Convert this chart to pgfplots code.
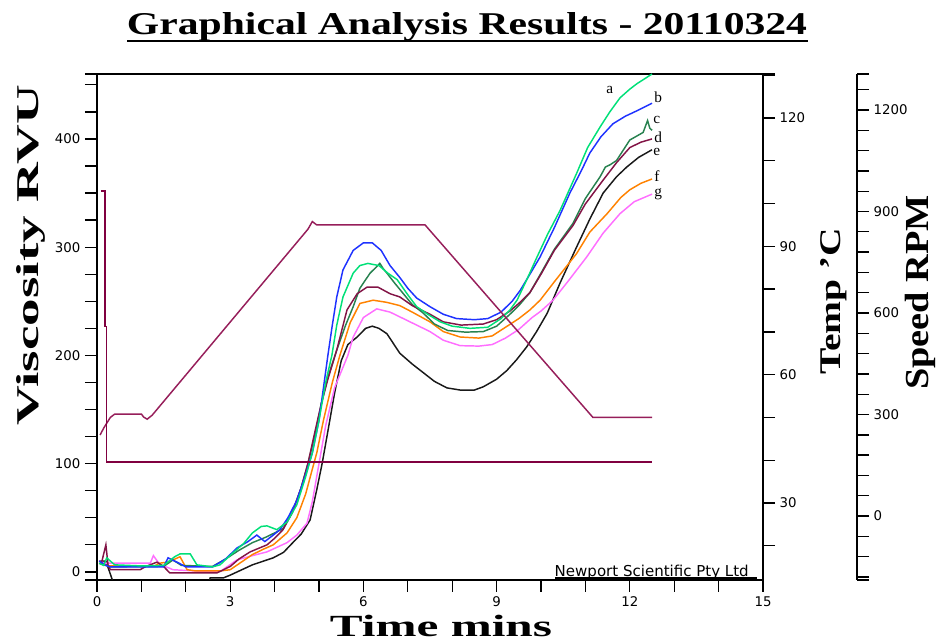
\documentclass[border=0pt]{standalone}
\usepackage{fontspec}
\setmainfont{Liberation Serif}
\newfontfamily\tickfont{DejaVu Sans}
\usepackage{graphicx}
\usepackage{pgfplots}
\pgfplotsset{compat=1.18}
\definecolor{ca}{RGB}{0,224,120}
\definecolor{cb}{RGB}{30,50,255}
\definecolor{cc}{RGB}{40,130,80}
\definecolor{cd}{RGB}{130,20,70}
\definecolor{ce}{RGB}{25,25,25}
\definecolor{cf}{RGB}{255,130,0}
\definecolor{cg}{RGB}{255,110,255}
\definecolor{ctemp}{RGB}{150,30,90}
\definecolor{cspeed}{RGB}{128,0,64}
\pgfplotsset{
  base/.style={at={(0pt,0pt)}, anchor=south west, scale only axis,
    width=499.5pt, height=379.5pt, xmin=0, xmax=15,
    axis line style={line width=1.8pt},
    tick align=outside, major tick length=9pt, minor tick length=9pt,
    every tick/.style={line width=1pt, black},
    ticklabel style={font=\tickfont\fontsize{10}{12}\selectfont},
    /pgf/number format/assume math mode=true,
    /pgf/number format/1000 sep={}},
  curve/.style={line width=1.1pt}
}
\tikzset{lab/.style={font=\fontsize{11.5}{12}\selectfont, inner sep=0pt}}
\begin{document}
\begin{tikzpicture}
\path[use as bounding box] (-72.75pt,-45.75pt) rectangle (630pt,435pt);
% viscosity axis
\begin{axis}[base, ymin=-7.5, ymax=460,
  xtick={0,3,...,15}, minor xtick={1,2,4,5,7,8,10,11,13,14},
  ytick={0,100,...,400}, minor ytick={25,50,75,125,150,175,225,250,275,325,350,375,425,450},
  extra y ticks={460,-7.5}, extra y tick labels={},
  xtick pos=bottom, ytick pos=left]
\addplot[curve, ce] coordinates {(0.05,10) (0.2,10) (0.35,-8) (0.5,-30) (2.4,-30) (2.55,-5.5) (2.85,-5.5) (3.0,-3) (3.5,6.5) (3.97,13) (4.2,18) (4.41,27) (4.6,35) (4.8,48) (4.95,76) (5.07,100) (5.2,130) (5.35,165) (5.5,195) (5.65,210) (5.86,217) (6.05,225) (6.2,227) (6.35,225) (6.53,220) (6.82,202) (7.1,192) (7.35,184) (7.6,176) (7.88,170) (8.18,168) (8.5,168) (8.7,171) (9.0,178) (9.23,186) (9.45,196) (9.68,208) (9.9,222) (10.14,239) (10.43,267) (10.8,300) (11.1,326) (11.4,350) (11.7,365) (11.93,374) (12.2,383) (12.5,390)};
\addplot[curve, cg] coordinates {(0.05,10) (0.2,8) (0.3,8) (1.2,8) (1.27,15) (1.42,6.5) (1.6,4) (1.71,2) (2.6,0) (2.8,1) (3.15,11) (3.5,15) (3.83,18.5) (4.28,27) (4.5,34) (4.73,45) (4.85,65) (5.0,100) (5.15,135) (5.35,170) (5.65,200) (5.77,217) (6.0,235) (6.3,243) (6.6,240) (6.9,234) (7.2,228) (7.5,222) (7.8,214) (8.18,209) (8.6,208.6) (8.9,210) (9.2,216) (9.5,224) (9.8,235) (10.0,241) (10.27,251) (10.6,268) (11.03,291) (11.4,313) (11.78,331) (12.1,342) (12.5,349)};
\addplot[curve, cf] coordinates {(0.05,8) (0.2,6) (0.3,5.5) (1.3,5.5) (1.4,8) (1.6,9) (1.87,14) (2.03,2) (2.2,1) (2.8,1) (3.0,2) (3.25,9) (3.5,16) (3.75,21) (3.97,25) (4.28,36) (4.5,50) (4.7,72) (4.85,95) (4.95,110) (5.1,140) (5.3,175) (5.47,200) (5.7,230) (5.92,248) (6.22,251) (6.53,249) (6.82,246) (7.1,240) (7.5,231) (7.8,222) (8.18,217) (8.6,216) (8.9,218) (9.2,226) (9.5,234) (9.75,242) (9.98,251) (10.3,268) (10.8,294) (11.1,314) (11.49,331) (11.8,346) (12.0,353) (12.25,359) (12.5,363)};
\addplot[curve, cc] coordinates {(0.05,8) (0.2,6) (0.3,4.6) (1.5,5) (1.71,11) (1.9,6) (2.6,5) (2.9,12) (3.2,20) (3.5,27) (3.8,32) (4.0,36) (4.19,40) (4.4,55) (4.6,78) (4.75,100) (4.9,125) (5.05,155) (5.2,180) (5.4,205) (5.6,228) (5.77,245) (5.92,262) (6.15,276) (6.3,282) (6.37,285) (6.45,280) (6.53,276) (6.7,267) (6.9,257) (7.1,247) (7.35,239) (7.6,229) (7.9,223) (8.3,221.5) (8.7,222) (9.0,227) (9.3,238) (9.5,246) (9.75,258) (10.0,276) (10.3,298) (10.72,322) (11.0,345) (11.33,365) (11.45,374) (11.55,376) (11.7,380) (12.0,399) (12.3,406) (12.4,417) (12.45,410) (12.5,408)};
\addplot[curve, cd] coordinates {(0.1,8) (0.2,25) (0.25,6) (0.3,2) (0.97,2) (1.1,5) (1.35,9) (1.5,5) (1.64,-1) (2.7,-1) (3.0,5) (3.2,12) (3.45,18.5) (3.83,25) (4.0,31) (4.19,39) (4.4,55) (4.6,78) (4.75,100) (4.9,128) (5.05,155) (5.2,178) (5.4,205) (5.63,242) (5.86,257) (6.08,263) (6.33,263) (6.6,257) (6.82,254) (7.1,246) (7.5,238) (7.8,231) (8.2,228) (8.7,229) (9.0,233) (9.3,241) (9.5,248) (9.75,258) (10.0,275) (10.3,297) (10.72,320) (11.0,340) (11.4,362) (11.7,378) (12.0,392) (12.25,397) (12.5,400)};
\addplot[curve, cb] coordinates {(0.05,10) (0.2,6) (0.3,4.6) (1.5,4.6) (1.6,13) (1.85,8) (2.0,4.6) (2.6,4.6) (2.9,12) (3.15,22) (3.4,28) (3.6,34) (3.78,28) (4.0,35) (4.12,39) (4.3,50) (4.5,66) (4.7,90) (4.85,110) (5.0,140) (5.1,170) (5.2,200) (5.3,228) (5.4,254) (5.54,279) (5.77,297) (6.0,304) (6.2,304) (6.4,297) (6.6,283) (6.82,272) (7.0,262) (7.2,253) (7.5,245) (7.8,238) (8.1,234) (8.5,233) (8.8,234) (9.1,240) (9.35,250) (9.53,260) (9.75,275) (9.98,291) (10.3,318) (10.65,350) (10.9,370) (11.1,387) (11.35,402) (11.62,414) (11.9,421) (12.16,426) (12.5,433)};
\addplot[curve, ca] coordinates {(0.05,8) (0.15,6) (0.22,13) (0.3,10) (0.4,6.5) (1.0,5.5) (1.5,6) (1.75,14) (1.87,16.6) (2.1,16.6) (2.25,6.5) (2.6,4.6) (2.77,6.5) (3.06,17.5) (3.3,26) (3.5,36) (3.7,42) (3.83,42.5) (4.05,39) (4.28,46) (4.5,62) (4.7,88) (4.85,110) (5.0,140) (5.15,175) (5.29,200) (5.4,228) (5.54,254) (5.77,276) (5.92,283) (6.1,285) (6.35,283) (6.55,276) (6.76,270) (7.0,256) (7.2,245) (7.45,238) (7.73,231) (8.0,227) (8.4,225) (8.8,226) (9.1,234) (9.3,242) (9.46,251) (9.68,270) (9.9,290) (10.15,312) (10.43,334) (10.8,368) (11.05,392) (11.33,411) (11.55,425) (11.78,438) (12.0,446) (12.16,451) (12.35,456) (12.5,460)};
\node[lab] at (axis cs:11.55,445) {a};
\node[lab] at (axis cs:12.64,438.5) {b};
\node[lab] at (axis cs:12.61,417.5) {c};
\node[lab] at (axis cs:12.64,402) {d};
\node[lab] at (axis cs:12.61,387.5) {e};
\node[lab] at (axis cs:12.61,366) {f};
\node[lab] at (axis cs:12.64,349) {g};
\end{axis}
% temperature axis
\begin{axis}[base, ymin=12, ymax=130.3, axis x line=none, axis y line*=right,
  ytick={30,60,90,120}, minor ytick={20,40,50,70,80,100,110,130},
  extra y ticks={130.3}, extra y tick labels={}]
\addplot[curve, ctemp] coordinates {(0.07,45.9) (0.15,47.5) (0.3,50) (0.4,50.8) (1.0,50.8) (1.05,50.1) (1.13,49.6) (1.24,50.5) (4.75,94) (4.85,95.8) (4.95,95) (7.39,95) (11.17,50) (11.3,50) (12.5,50)};
\end{axis}
% speed data
\begin{axis}[base, ymin=-189, ymax=1306.5, hide axis]
\addplot[curve, cspeed] coordinates {(0.09,960) (0.18,960) (0.18,560) (0.21,560) (0.21,160) (12.5,160)};
\end{axis}
% speed scale
\begin{axis}[base, at={(570pt,0pt)}, anchor=south east, width=10pt, xmin=0, xmax=1,
  ymin=-189, ymax=1306.5, axis x line=none, axis y line*=right,
  ytick={0,300,...,1200}, minor ytick={-180,-120,-60,60,120,180,240,360,420,480,540,660,720,780,840,960,1020,1080,1140,1260},
  extra y ticks={-189,1306.5}, extra y tick labels={}]
\addplot[draw=none] coordinates {(0,0)};
\end{axis}
% texts
\node[anchor=base, inner sep=0pt] at (277.5pt,408.75pt) {\resizebox{510pt}{16.5pt}{\bfseries Graphical Analysis Results - 20110324}};
\draw[line width=2.2pt] (22.5pt,404.25pt) -- (533.25pt,404.25pt);
\node[anchor=base, inner sep=0pt] at (258pt,-42pt) {\resizebox{166.5pt}{16pt}{\bfseries Time mins}};
\node[anchor=base, inner sep=0pt, rotate=90] at (-44.25pt,243.75pt) {\resizebox{255pt}{16.5pt}{\bfseries Viscosity RVU}};
\node[anchor=base, inner sep=0pt, rotate=90] at (557.25pt,209pt) {\resizebox{110pt}{15pt}{\bfseries Temp 'C}};
\node[anchor=base, inner sep=0pt, rotate=90] at (623.25pt,215.6pt) {\resizebox{146pt}{17.5pt}{\bfseries Speed RPM}};
\node[anchor=base east, inner sep=0pt] at (489pt,2.6pt) {\resizebox{145.5pt}{!}{\tickfont\fontsize{9}{10}\selectfont Newport Scientific Pty Ltd}};
\draw[line width=1.4pt] (343.5pt,1.6pt) -- (495pt,1.6pt);
\end{tikzpicture}
\end{document}
